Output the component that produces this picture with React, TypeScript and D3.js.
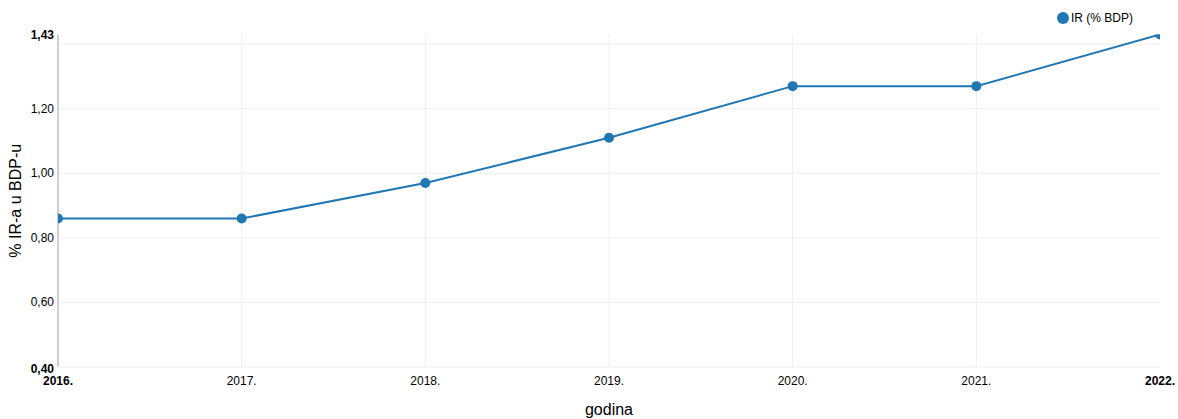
import React from "react";
import * as d3 from "d3";

const years = [2016, 2017, 2018, 2019, 2020, 2021, 2022];
const values = [0.86, 0.86, 0.97, 1.11, 1.27, 1.27, 1.43];
const yTicks = [0.4, 0.6, 0.8, 1.0, 1.2, 1.4];
const yMin = 0.4;
const yMax = 1.43;
const seriesName = "IR (% BDP)";
const xTitle = "godina";
const yTitle = "% IR-a u BDP-u";

const W = 1178;
const H = 419;
const M = { left: 58, right: 18, top: 34.5, bottom: 52 };
const color = "#1f77b4";

const fmt = (v: number) => v.toFixed(2).replace(".", ",");

export default function App() {
  const x = d3.scaleLinear().domain([years[0], years[years.length - 1]]).range([M.left, W - M.right]);
  const y = d3.scaleLinear().domain([yMin, yMax]).range([H - M.bottom, M.top]);
  const line = d3
    .line<number>()
    .x((_, i) => x(years[i]))
    .y((d) => y(d));
  const font = "Arial, 'Liberation Sans', sans-serif";
  const x0 = M.left;
  const x1 = W - M.right;
  const y0 = y(yMin);
  const y1 = y(yMax);
  return (
    <svg
      width={W}
      height={H}
      style={{ position: "absolute", left: 0, top: 0, fontFamily: font }}
    >
      <defs>
        <clipPath id="plot">
          <rect x={x0} y={y1} width={x1 - x0} height={y0 - y1} />
        </clipPath>
      </defs>
      {/* grid */}
      {yTicks.map((t) => (
        <line key={"gy" + t} x1={x0} x2={x1} y1={y(t)} y2={y(t)} stroke="#efefef" strokeWidth={1} />
      ))}
      {years.slice(1, -1).map((yr) => (
        <line key={"gx" + yr} x1={x(yr)} x2={x(yr)} y1={y1} y2={y0} stroke="#efefef" strokeWidth={1} />
      ))}
      {/* y axis line */}
      <line x1={x0} x2={x0} y1={y1} y2={y0} stroke="#d0d0d0" strokeWidth={2} />
      {/* y tick labels */}
      {yTicks
        .filter((t) => t !== 0.4 && t !== 1.4)
        .map((t) => (
          <text key={"yl" + t} x={x0 - 4} y={y(t)} dy="0.32em" textAnchor="end" fontSize={12} fill="#000">
            {fmt(t)}
          </text>
        ))}
      <text x={x0 - 4} y={y0} dy="0.5em" textAnchor="end" fontSize={12} fontWeight="bold" fill="#000">
        {fmt(yMin)}
      </text>
      <text x={x0 - 4} y={y1} dy="0.38em" textAnchor="end" fontSize={12} fontWeight="bold" fill="#000">
        {fmt(yMax)}
      </text>
      {/* x tick labels */}
      {years.map((yr, i) => (
        <text
          key={"xl" + yr}
          x={x(yr)}
          y={y0 + 18}
          textAnchor="middle"
          fontSize={12}
          fontWeight={i === 0 || i === years.length - 1 ? "bold" : "normal"}
          fill="#000"
        >
          {yr + "."}
        </text>
      ))}
      {/* axis titles */}
      <text x={609} y={415} textAnchor="middle" fontSize={16} fill="#000">
        {xTitle}
      </text>
      <text
        transform={`translate(21, ${(y0 + y1) / 2}) rotate(-90)`}
        textAnchor="middle"
        fontSize={16}
        fill="#000"
      >
        {yTitle}
      </text>
      {/* series */}
      <g clipPath="url(#plot)">
        <path d={line(values) || ""} fill="none" stroke={color} strokeWidth={2} />
        {values.map((v, i) => (
          <circle key={"p" + i} cx={x(years[i])} cy={y(v)} r={5} fill={color} />
        ))}
      </g>
      {/* legend */}
      <circle cx={1063} cy={18} r={6} fill={color} />
      <text x={1071} y={18} dy="0.32em" fontSize={12} fill="#000">
        {seriesName}
      </text>
    </svg>
  );
}
